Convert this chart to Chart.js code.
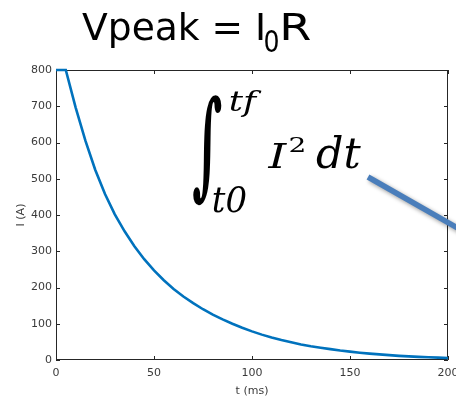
<!DOCTYPE html>
<html>
<head>
<meta charset="utf-8">
<script src="https://cdn.jsdelivr.net/npm/chart.js@4"></script>
<style>
html,body{margin:0;padding:0;background:#fff;}
#wrap{position:relative;width:456px;height:399px;}
canvas{display:block;}
</style>
</head>
<body>
<div id="wrap"><canvas id="c" width="456" height="399"></canvas></div>
<script>
// ---- data ----
const timeMs = [0,5,10,15,20,25,30,35,40,45,50,55,60,65,70,75,80,85,90,95,100,
  105,110,115,120,125,130,135,140,145,150,155,160,165,170,175,180,185,190,195,200];
const currentA = [800,800,697,605,525,458,402,355,314,278,247,220,196,175,157,140,125,112,100,89,79,
  70,62,55,49,43,38,34,30,26,23,20,17.5,15.5,13.5,11.5,10,8.5,7.5,6.5,5.5];
const xTicks = [0,50,100,150,200];
const yTicks = [0,100,200,300,400,500,600,700,800];
const titleMain = 'Vpeak = I';
const titleSub = '0';
const titleEnd = 'R';
const xTitle = 't (ms)';
const yTitle = 'I (A)';

function fitText(ctx, text, font, x0, y0, x1, y1, color) {
  ctx.save();
  ctx.font = font;
  ctx.fillStyle = color;
  ctx.textAlign = 'left';
  ctx.textBaseline = 'alphabetic';
  const m = ctx.measureText(text);
  const w = m.actualBoundingBoxLeft + m.actualBoundingBoxRight;
  const h = m.actualBoundingBoxAscent + m.actualBoundingBoxDescent;
  ctx.translate(x0, y0);
  ctx.scale((x1 - x0) / w, (y1 - y0) / h);
  ctx.fillText(text, m.actualBoundingBoxLeft, m.actualBoundingBoxAscent);
  ctx.restore();
}
function fitWidth(ctx, text, font, x0, x1, baseline, color) {
  ctx.save();
  ctx.font = font;
  ctx.fillStyle = color;
  ctx.textAlign = 'left';
  ctx.textBaseline = 'alphabetic';
  const m = ctx.measureText(text);
  const w = m.actualBoundingBoxLeft + m.actualBoundingBoxRight;
  ctx.translate(x0, baseline);
  ctx.scale((x1 - x0) / w, 1);
  ctx.fillText(text, m.actualBoundingBoxLeft, 0);
  ctx.restore();
}

const boxPlugin = {
  id: 'box',
  beforeDatasetsDraw(chart) {
    const {ctx, chartArea: a, scales} = chart;
    ctx.save();
    ctx.strokeStyle = '#262626';
    ctx.lineWidth = 1;
    ctx.beginPath();
    ctx.rect(a.left + 0.5, a.top + 0.5, a.right - a.left - 1, a.bottom - a.top - 1);
    ctx.stroke();
    const tl = 4;
    ctx.beginPath();
    scales.x.ticks.forEach(t => {
      const x = Math.round(scales.x.getPixelForValue(t.value)) + 0.5;
      ctx.moveTo(x, a.bottom); ctx.lineTo(x, a.bottom - tl);
      ctx.moveTo(x, a.top); ctx.lineTo(x, a.top + tl);
    });
    scales.y.ticks.forEach(t => {
      const y = Math.round(scales.y.getPixelForValue(t.value)) + 0.5;
      ctx.moveTo(a.left, y); ctx.lineTo(a.left + tl, y);
      ctx.moveTo(a.right, y); ctx.lineTo(a.right - tl, y);
    });
    ctx.stroke();
    ctx.restore();
  },
  afterDraw(chart) {
    const ctx = chart.ctx;
    // title
    fitWidth(ctx, titleMain, '38px "DejaVu Sans"', 82, 263, 40, '#000');
    fitWidth(ctx, titleSub, '31px "DejaVu Sans"', 265, 278, 52, '#000');
    fitWidth(ctx, titleEnd, '38px "DejaVu Sans"', 283, 311, 40, '#000');
    // integral formula
    const f = 'italic 30px "DejaVu Serif"';
    fitText(ctx, '\u222B', 'bold 60px "DejaVu Serif"', 193, 94, 222, 205, '#000');
    fitText(ctx, 'tf', f, 230, 91, 262, 117, '#000');
    fitText(ctx, 'I', f, 267, 143, 288, 168, '#000');
    fitText(ctx, '2', '20px "DejaVu Serif"', 290, 137, 304, 152, '#000');
    fitText(ctx, 'dt', f, 316, 137, 362, 168, '#000');
    fitText(ctx, 't0', f, 213, 186, 247, 212, '#000');
    // callout line
    ctx.save();
    ctx.strokeStyle = '#4A7EBB';
    ctx.lineWidth = 5.5;
    ctx.shadowColor = 'rgba(0,0,0,0.4)';
    ctx.shadowBlur = 4;
    ctx.shadowOffsetX = 2;
    ctx.shadowOffsetY = 2;
    ctx.beginPath();
    ctx.moveTo(368, 177);
    ctx.lineTo(462, 230.5);
    ctx.stroke();
    ctx.restore();
  }
};

const tickFont = {family: '"DejaVu Sans"', size: 11};
new Chart(document.getElementById('c'), {
  type: 'line',
  data: {
    datasets: [{
      data: timeMs.map((t, i) => ({x: t, y: currentA[i]})),
      borderColor: '#0072BD',
      borderWidth: 2.6,
      pointRadius: 0,
      tension: 0,
      fill: false,
      clip: 4
    }]
  },
  options: {
    responsive: false,
    animation: false,
    devicePixelRatio: 1,
    layout: {padding: {top: 70, right: 8, left: 0, bottom: 0}},
    plugins: {legend: {display: false}, tooltip: {enabled: false}, title: {display: false}},
    scales: {
      x: {
        type: 'linear', min: 0, max: 200,
        afterBuildTicks: s => { s.ticks = xTicks.map(v => ({value: v})); },
        afterFit: s => { s.height = 39; s.paddingRight = 0; s.paddingLeft = 0; },
        grid: {display: false, drawTicks: false},
        border: {display: false},
        ticks: {font: tickFont, color: '#3a3a3a', padding: 7, maxRotation: 0},
        title: {display: true, text: xTitle, font: tickFont, color: '#3a3a3a', padding: {top: 0, bottom: 1}}
      },
      y: {
        type: 'linear', min: 0, max: 800,
        afterBuildTicks: s => { s.ticks = yTicks.map(v => ({value: v})); },
        afterFit: s => { s.width = 56; s.paddingTop = 0; s.paddingBottom = 0; },
        grid: {display: false, drawTicks: false},
        border: {display: false},
        ticks: {font: tickFont, color: '#3a3a3a', padding: 4},
        title: {display: true, text: yTitle, font: tickFont, color: '#3a3a3a', padding: {top: 15, bottom: 0}}
      }
    }
  },
  plugins: [boxPlugin]
});
</script>
</body>
</html>
